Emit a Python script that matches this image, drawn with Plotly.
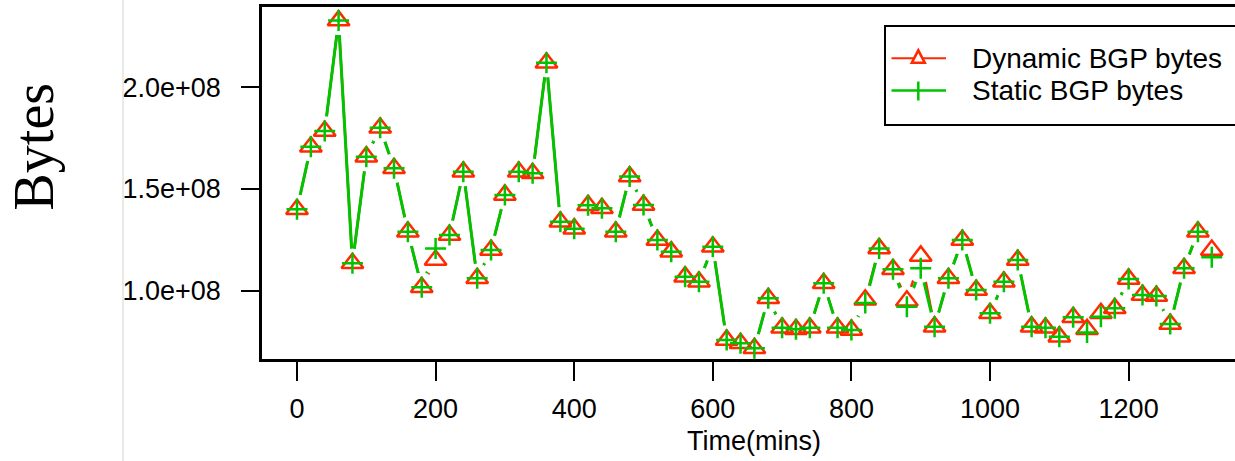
import plotly.graph_objects as go

# ---------------- data ----------------
time_mins = [0, 20, 40, 60, 80, 100, 120, 140, 160, 180,
             200, 220, 240, 260, 280, 300, 320, 340, 360, 380,
             400, 420, 440, 460, 480, 500, 520, 540, 560, 580,
             600, 620, 640, 660, 680, 700, 720, 740, 760, 780,
             800, 820, 840, 860, 880, 900, 920, 940, 960, 980,
             1000, 1020, 1040, 1060, 1080, 1100, 1120, 1140, 1160, 1180,
             1200, 1220, 1240, 1260, 1280, 1300, 1320]

dynamic_bytes = [140.0e6, 170.8e6, 178.5e6, 232.8e6, 113.5e6, 165.9e6, 180.1e6, 160.2e6, 129.0e6, 101.7e6,
                 115.1e6, 127.4e6, 158.5e6, 106.1e6, 120.0e6, 147.1e6, 158.5e6, 157.7e6, 212.1e6, 133.9e6,
                 130.5e6, 142.0e6, 140.5e6, 129.0e6, 156.1e6, 142.1e6, 124.9e6, 119.2e6, 106.9e6, 104.4e6,
                 121.6e6, 75.8e6, 74.1e6, 71.7e6, 96.3e6, 81.8e6, 81.0e6, 81.8e6, 103.6e6, 81.8e6,
                 80.7e6, 95.5e6, 120.8e6, 110.5e6, 95.0e6, 117.1e6, 82.3e6, 106.1e6, 124.9e6, 100.3e6,
                 88.9e6, 104.4e6, 115.1e6, 82.3e6, 81.8e6, 77.4e6, 86.9e6, 81.0e6, 88.9e6, 91.3e6,
                 105.8e6, 97.9e6, 97.4e6, 83.6e6, 111.0e6, 129.0e6, 120.0e6]

static_bytes = [140.0e6, 170.8e6, 178.5e6, 232.8e6, 113.5e6, 165.9e6, 180.1e6, 160.2e6, 129.0e6, 101.7e6,
                120.8e6, 127.4e6, 158.5e6, 106.1e6, 120.0e6, 147.1e6, 158.5e6, 157.7e6, 212.1e6, 133.9e6,
                130.5e6, 142.0e6, 140.5e6, 129.0e6, 156.1e6, 142.1e6, 124.9e6, 119.2e6, 106.9e6, 104.4e6,
                121.6e6, 75.8e6, 74.1e6, 71.7e6, 96.3e6, 81.8e6, 81.0e6, 81.8e6, 103.6e6, 81.8e6,
                80.7e6, 94.0e6, 120.8e6, 110.5e6, 92.1e6, 111.0e6, 82.3e6, 106.1e6, 124.9e6, 100.3e6,
                88.9e6, 104.4e6, 115.1e6, 82.3e6, 81.8e6, 77.4e6, 86.9e6, 79.4e6, 87.2e6, 91.3e6,
                105.8e6, 97.9e6, 97.4e6, 83.6e6, 111.0e6, 129.0e6, 116.4e6]

x_tick_vals = [0, 200, 400, 600, 800, 1000, 1200]
x_tick_text = ["0", "200", "400", "600", "800", "1000", "1200"]
y_tick_vals = [1.0e8, 1.5e8, 2.0e8]
y_tick_text = ["1.0e+08", "1.5e+08", "2.0e+08"]

series_names = ["Dynamic BGP bytes", "Static BGP bytes"]
x_title = "Time(mins)"
y_title = "Bytes"

# ---------------- layout geometry ----------------
W, H = 1235, 461
ML, MT, MB, MR = 262, 7, 102, 0
PW, PH = W - ML - MR, H - MT - MB

def px_x(p):
    return (p - ML) / PW

def px_y(p):
    return (H - MB - p) / PH

RED = "#ff2a00"
GREEN = "#00c400"
FONT = "Liberation Sans"
TRI = dict(symbol="triangle-up-open", size=19, color=RED, line=dict(width=2.5, color=RED))
PLUS = dict(symbol="cross-thin-open", size=15, color=GREEN, line=dict(width=2.5, color=GREEN))

fig = go.Figure()

# lines
fig.add_trace(go.Scatter(x=time_mins, y=dynamic_bytes, mode="lines", name=series_names[0],
                         line=dict(color=RED, width=2.5), showlegend=False))
fig.add_trace(go.Scatter(x=time_mins, y=static_bytes, mode="lines", name=series_names[1],
                         line=dict(color=GREEN, width=3), showlegend=False))

# white discs around each point to leave the gaps of a "both"-style line
for ys in (dynamic_bytes, static_bytes):
    fig.add_trace(go.Scatter(
        x=time_mins, y=ys, mode="markers", showlegend=False, hoverinfo="skip",
        marker=dict(symbol="circle", size=29, color="white", line=dict(width=0))))

# markers on top
fig.add_trace(go.Scatter(x=time_mins, y=dynamic_bytes, mode="markers", name=series_names[0],
                         showlegend=False, marker=TRI))
fig.add_trace(go.Scatter(x=time_mins, y=static_bytes, mode="markers", name=series_names[1],
                         showlegend=False, marker=PLUS))

# ---------------- legend drawn by hand (box runs past the right edge) ----------------
row_y = [58.3, 90.5]
sym_x0, sym_x1, sym_xc = 891.5, 946.0, 918.3
text_x = 969.5

legend_shapes = [
    dict(type="rect", xref="paper", yref="paper",
         x0=px_x(885), x1=px_x(1260), y0=px_y(125), y1=px_y(26),
         line=dict(color="black", width=2), fillcolor="white", layer="above"),
    dict(type="line", xref="paper", yref="paper",
         x0=px_x(sym_x0), x1=px_x(sym_x1), y0=px_y(row_y[0]), y1=px_y(row_y[0]),
         line=dict(color=RED, width=2), layer="above"),
    dict(type="path", xref="paper", yref="paper",
         path="M {:.5f},{:.5f} L {:.5f},{:.5f} L {:.5f},{:.5f} Z".format(
             px_x(sym_xc - 6.5), px_y(row_y[0] + 4.5),
             px_x(sym_xc + 6.5), px_y(row_y[0] + 4.5),
             px_x(sym_xc), px_y(row_y[0] - 8.0)),
         line=dict(color=RED, width=2.5), fillcolor="white", layer="above"),
    dict(type="line", xref="paper", yref="paper",
         x0=px_x(sym_x0), x1=px_x(sym_x1), y0=px_y(row_y[1]), y1=px_y(row_y[1]),
         line=dict(color=GREEN, width=2.5), layer="above"),
    dict(type="line", xref="paper", yref="paper",
         x0=px_x(sym_xc), x1=px_x(sym_xc), y0=px_y(row_y[1] + 10), y1=px_y(row_y[1] - 9),
         line=dict(color=GREEN, width=2.5), layer="above"),
]
legend_texts = [
    dict(text=series_names[i], xref="paper", yref="paper", x=px_x(text_x), y=px_y(row_y[i]),
         xanchor="left", yanchor="middle", showarrow=False,
         font=dict(family=FONT, size=28, color="black"))
    for i in range(2)
]

fig.update_layout(
    width=W, height=H,
    margin=dict(l=ML, r=MR, t=MT, b=MB, pad=0),
    paper_bgcolor="white", plot_bgcolor="white",
    font=dict(family=FONT, color="black", size=27),
    showlegend=False,
    xaxis=dict(
        range=[-50.5, 1353.5], tickvals=x_tick_vals, ticktext=x_tick_text,
        showgrid=False, zeroline=False,
        showline=True, linecolor="black", linewidth=2.5, mirror=True,
        ticks="outside", ticklen=19, tickwidth=2, tickcolor="black",
        tickfont=dict(family=FONT, size=27, color="black"),
        ticklabelstandoff=5,
    ),
    yaxis=dict(
        range=[66.4e6, 239.5e6], tickvals=y_tick_vals, ticktext=y_tick_text,
        showgrid=False, zeroline=False,
        showline=True, linecolor="black", linewidth=2.5, mirror=False,
        ticks="outside", ticklen=18, tickwidth=2, tickcolor="black",
        tickfont=dict(family=FONT, size=27, color="black"),
        ticklabelstandoff=15,
    ),
    annotations=[
        dict(text=x_title, xref="paper", yref="paper", x=px_x(754), y=px_y(441),
             xanchor="center", yanchor="middle", showarrow=False,
             font=dict(family=FONT, size=27, color="black")),
        dict(text=y_title, xref="paper", yref="paper", x=px_x(33), y=px_y(146.5),
             xanchor="center", yanchor="middle", showarrow=False, textangle=-90,
             font=dict(family="Liberation Serif", size=56, color="black")),
    ] + legend_texts,
    shapes=[
        dict(type="line", xref="paper", yref="paper",
             x0=px_x(123), x1=px_x(123), y0=px_y(H), y1=px_y(0),
             line=dict(color="#d4d4d4", width=1), layer="above"),
    ] + legend_shapes,
)

fig.write_html("out.html", config={"displayModeBar": False},
               post_script="document.body.style.margin='0px';")
